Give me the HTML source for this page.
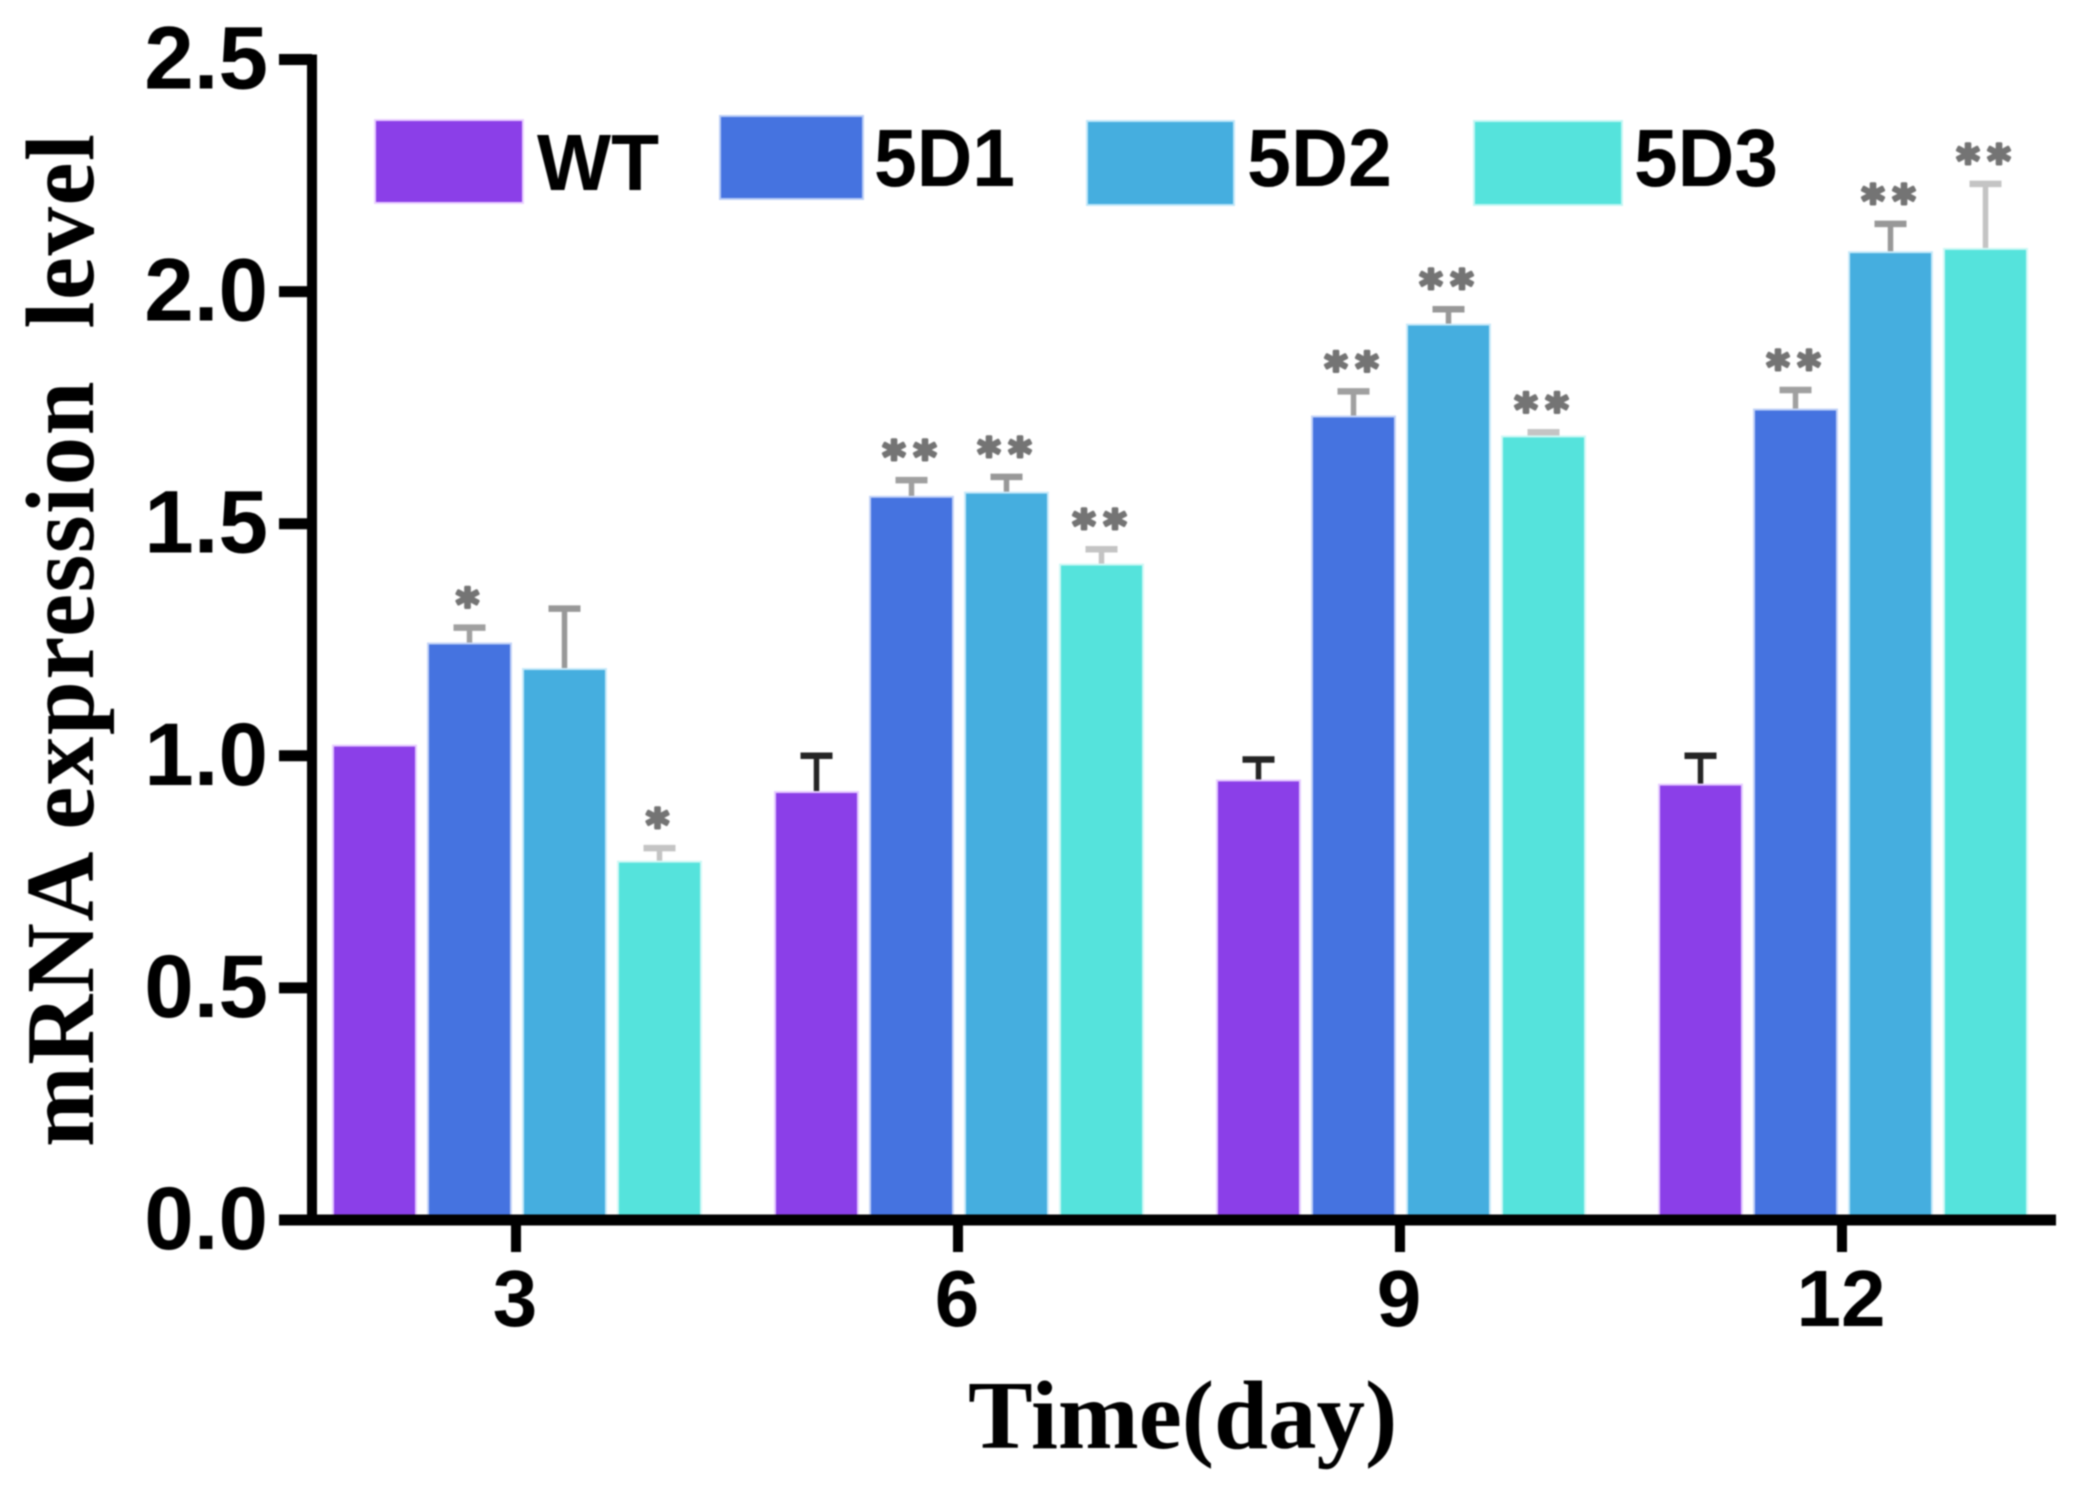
<!DOCTYPE html>
<html lang="en">
<head>
<meta charset="utf-8">
<title>mRNA expression level over time</title>
<style>
  html, body { margin: 0; padding: 0; background: #fff; }
  #chart { display: block; width: 2094px; height: 1500px; filter: blur(0.7px); }
  .sans { font-family: "Liberation Sans", sans-serif; font-weight: 700; fill: #000; }
  .serif { font-family: "Liberation Serif", serif; font-weight: 700; fill: #000; white-space: pre; }
  .star { font-family: "DejaVu Sans", sans-serif; font-weight: 700; fill: #747474; stroke: #747474; stroke-width: 3; stroke-linejoin: round; }
</style>
</head>
<body>
<svg id="chart" xmlns="http://www.w3.org/2000/svg" width="2094" height="1500" viewBox="0 0 2094 1500">
  <rect x="0" y="0" width="2094" height="1500" fill="#ffffff"/>
  <g id="bars"></g>
  <g id="axes"></g>

  <g>
    <g>
      <rect x="375" y="120" width="148" height="83" fill="#8b3fe8" stroke="#e9cfff" stroke-width="2"/>
      <text class="sans" x="537" y="190" font-size="80" textLength="122" lengthAdjust="spacingAndGlyphs">WT</text>
    </g>
    <g>
      <rect x="720" y="116" width="143" height="83" fill="#4573e0" stroke="#b9ccf5" stroke-width="2"/>
      <text class="sans" x="874" y="186" font-size="82" textLength="141" lengthAdjust="spacingAndGlyphs">5D1</text>
    </g>
    <g>
      <rect x="1087" y="121" width="147" height="84" fill="#45aedf" stroke="#bfe6f8" stroke-width="2"/>
      <text class="sans" x="1247" y="186" font-size="82" textLength="145" lengthAdjust="spacingAndGlyphs">5D2</text>
    </g>
    <g>
      <rect x="1474" y="121" width="148" height="84" fill="#55e3dc" stroke="#c4f6f3" stroke-width="2"/>
      <text class="sans" x="1634" y="186" font-size="82" textLength="144" lengthAdjust="spacingAndGlyphs">5D3</text>
    </g>
  </g>

  <text class="serif" transform="translate(93 1147) rotate(-90)" x="0" y="0" font-size="97" textLength="1013" lengthAdjust="spacing" xml:space="preserve">mRNA expression  level</text>
  <text class="serif" x="968" y="1448" font-size="97">Time(day)</text>
</svg>

<script>
const categories = ["3", "6", "9", "12"];
const seriesNames = ["WT", "5D1", "5D2", "5D3"];
const yTickLabels = ["0.0", "0.5", "1.0", "1.5", "2.0", "2.5"];

const valuesWT  = [1.022, 0.922, 0.947, 0.938];
const values5D1 = [1.242, 1.558, 1.731, 1.746];
const values5D2 = [1.187, 1.567, 1.929, 2.085];
const values5D3 = [0.772, 1.412, 1.688, 2.092];

const errorsWT  = [0.000, 0.078, 0.045, 0.062];
const errors5D1 = [0.034, 0.036, 0.054, 0.042];
const errors5D2 = [0.130, 0.034, 0.033, 0.061];
const errors5D3 = [0.029, 0.033, 0.009, 0.140];

const starsWT  = ["", "", "", ""];
const stars5D1 = ["*", "**", "**", "**"];
const stars5D2 = ["", "**", "**", "**"];
const stars5D3 = ["*", "**", "**", "**"];

const allValues = [valuesWT, values5D1, values5D2, values5D3];
const allErrors = [errorsWT, errors5D1, errors5D2, errors5D3];
const allStars = [starsWT, stars5D1, stars5D2, stars5D3];

const barColors = ["#8b3fe8", "#4573e0", "#45aedf", "#55e3dc"];
const barFringes = ["#e6ccff", "#c3d3f7", "#c8e9f9", "#cff8f5"];
const errorColors = ["#242424", "#a0a0a0", "#989898", "#c4c4c4"];

const NS = "http://www.w3.org/2000/svg";
const plot = { xLeft: 312, xRight: 2056, yBase: 1220, yTop: 59.5, yMax: 2.5 };
const firstTick = 516;
const groupStep = 442;
const barStep = 95;
const barWidth = 83;

function yScale(v) {
  return plot.yBase - (v / plot.yMax) * (plot.yBase - plot.yTop);
}
function xGroup(i) {
  return firstTick + i * groupStep;
}
function xBar(i, j) {
  return xGroup(i) + (j - 1.5) * barStep + 1;
}
function make(tag, attrs, parent) {
  const el = document.createElementNS(NS, tag);
  for (const k in attrs) el.setAttribute(k, attrs[k]);
  parent.appendChild(el);
  return el;
}

const barsLayer = document.getElementById("bars");
const axesLayer = document.getElementById("axes");

seriesNames.forEach(function (name, j) {
  categories.forEach(function (cat, i) {
    const v = allValues[j][i];
    const e = allErrors[j][i];
    const s = allStars[j][i];
    const cx = xBar(i, j);
    const top = yScale(v);
    const capY = yScale(v + e);
    const tag = name.toLowerCase() + "-day-" + cat;

    if (e > 0) {
      const stem = make("line", { x1: cx, x2: cx, y1: top, y2: capY, stroke: errorColors[j], "stroke-width": 5.5 }, barsLayer);
      
      
      const cap = make("line", { x1: cx - 16, x2: cx + 16, y1: capY, y2: capY, stroke: errorColors[j], "stroke-width": 6.5 }, barsLayer);
      
      
    }

    const bar = make("rect", {
      x: cx - barWidth / 2, y: top, width: barWidth, height: plot.yBase - top,
      fill: barColors[j], stroke: barFringes[j], "stroke-width": 2
    }, barsLayer);
    
    

    if (s) {
      const star = make("text", {
        class: "star", x: cx - 2 + (s.length > 1 ? 4 : 0), y: capY - 32 + 24,
        "font-size": 44, "letter-spacing": s.length > 1 ? 8 : 0, "text-anchor": "middle"
      }, barsLayer);
      star.textContent = s;
      
      
    }
  });
});

const yAxisLine = make("line", { x1: plot.xLeft, x2: plot.xLeft, y1: plot.yTop - 5, y2: plot.yBase + 5, stroke: "#000", "stroke-width": 10 }, axesLayer);



const xAxisLine = make("line", { x1: 279, x2: plot.xRight, y1: plot.yBase, y2: plot.yBase, stroke: "#000", "stroke-width": 11 }, axesLayer);



yTickLabels.forEach(function (label) {
  const y = yScale(parseFloat(label));
  const tick = make("line", { x1: 279, x2: plot.xLeft, y1: y, y2: y, stroke: "#000", "stroke-width": 11 }, axesLayer);
  
  
  const text = make("text", { class: "sans", x: 268, y: y + 29, "font-size": 89, "text-anchor": "end" }, axesLayer);
  text.textContent = label;
  
  
});

categories.forEach(function (cat, i) {
  const x = xGroup(i);
  const tick = make("line", { x1: x, x2: x, y1: plot.yBase, y2: 1252, stroke: "#000", "stroke-width": 10 }, axesLayer);
  
  
  const text = make("text", { class: "sans", x: x - 1, y: 1326, "font-size": 80, "text-anchor": "middle" }, axesLayer);
  text.textContent = cat;
  
  
});
</script>
</body>
</html>
